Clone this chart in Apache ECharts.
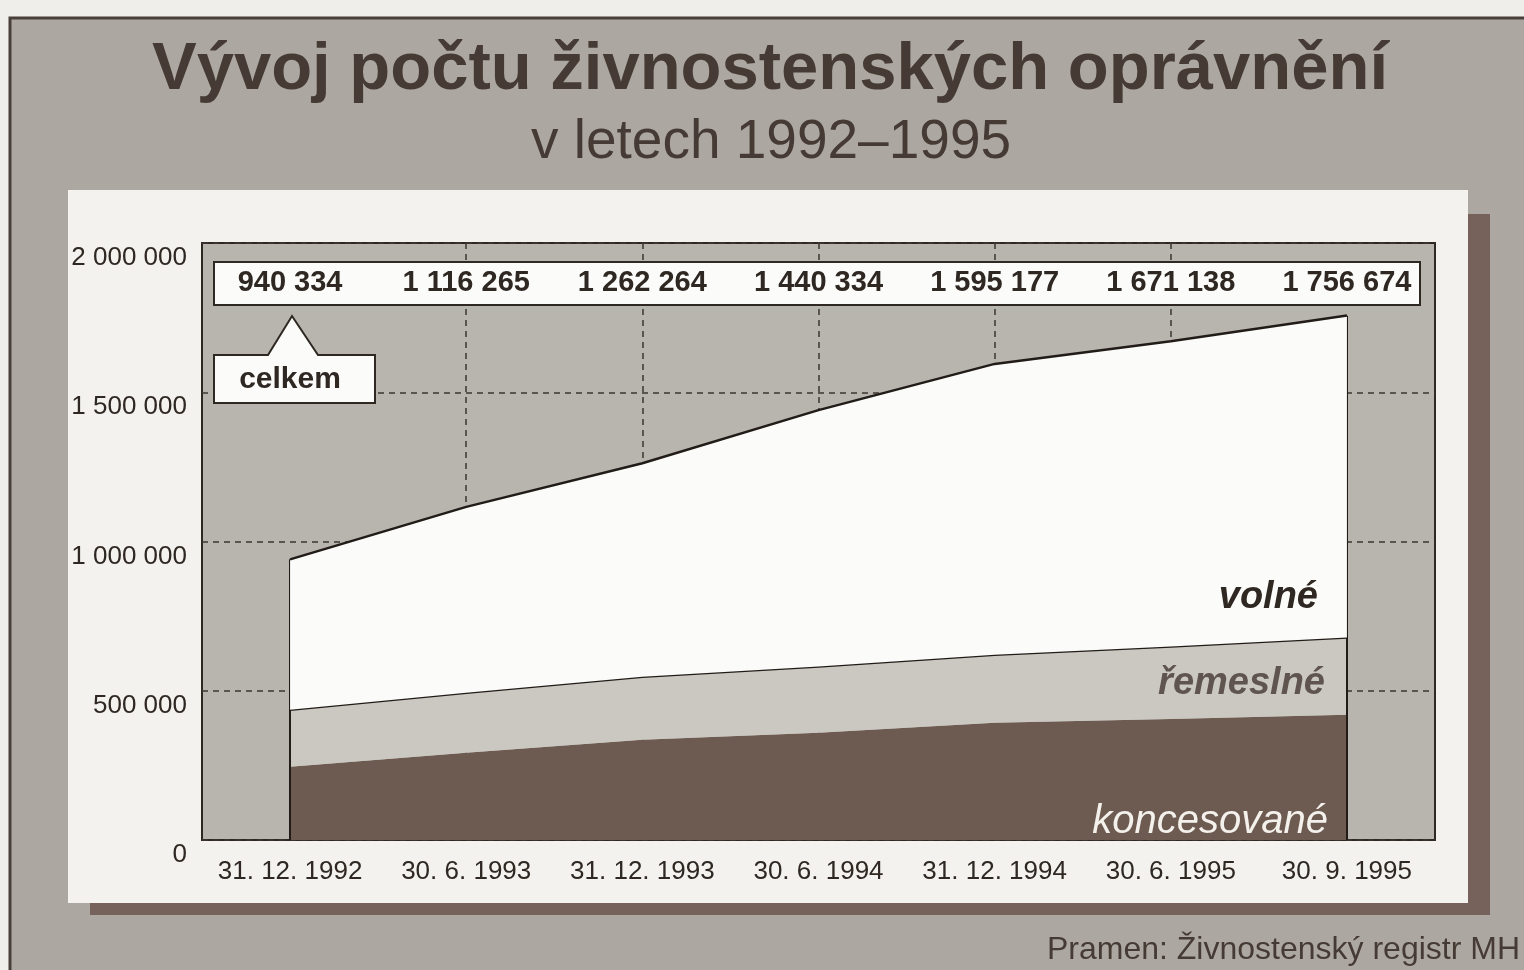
<!DOCTYPE html>
<html lang="cs">
<head>
<meta charset="utf-8">
<title>Vývoj počtu živnostenských oprávnění</title>
<script src="https://cdn.jsdelivr.net/npm/echarts@6/dist/echarts.min.js"></script>
<style>
  html, body { margin: 0; padding: 0; background: #efeeea; }
  #chart { width: 1524px; height: 970px; }
</style>
</head>
<body>
<div id="chart"></div>
<script>
const categories = ['31. 12. 1992', '30. 6. 1993', '31. 12. 1993', '30. 6. 1994', '31. 12. 1994', '30. 6. 1995', '30. 9. 1995'];
const celkem = [940334, 1116265, 1262264, 1440334, 1595177, 1671138, 1756674];
const koncesovane = [245000, 292000, 336000, 359000, 393000, 405000, 420000];
const remeslne = [191000, 201000, 211000, 222000, 228000, 243000, 258000];
const volne = [504000, 623000, 715000, 859000, 974000, 1023000, 1079000];
const yTicks = [0, 500000, 1000000, 1500000, 2000000];

const INK = '#2e2722';
const FONT = '"Liberation Sans", Arial, sans-serif';

function fmt(v) {
    return String(v).replace(/\B(?=(\d{3})+(?!\d))/g, ' ');
}

// dashed verticals only at inner category centres (value axis 0..14, centres on odd ticks)
const vColors = [];
for (let i = 0; i <= 14; i++) {
    vColors.push(i % 2 === 1 && i >= 3 && i <= 11 ? '#3d3630' : 'rgba(0,0,0,0)');
}

const chart = echarts.init(document.getElementById('chart'));

chart.setOption({
    animation: false,
    textStyle: { fontFamily: FONT },
    grid: {
        left: 202, right: 89, top: 243, bottom: 130,
        show: true,
        backgroundColor: '#b8b5ae',
        borderColor: INK,
        borderWidth: 2,
    },
    graphic: [
        // newsprint frame (runs off the right and bottom edge)
        { type: 'rect', z: -20, shape: { x: 10, y: 18, width: 1540, height: 980 },
          style: { fill: '#aca8a1', stroke: '#4a3f38', lineWidth: 3 } },
        // panel shadow
        { type: 'rect', z: -19, shape: { x: 90, y: 214, width: 1400, height: 701 },
          style: { fill: '#76625a' } },
        // white panel
        { type: 'rect', z: -18, shape: { x: 68, y: 190, width: 1400, height: 713 },
          style: { fill: '#f3f2ee' } },
        { type: 'text', z: 5, x: 770, y: 71,
          style: { text: 'Vývoj počtu živnostenských oprávnění', font: 'bold 67px ' + FONT,
                   fill: '#463b34', align: 'center', verticalAlign: 'middle' } },
        { type: 'text', z: 5, x: 771, y: 143,
          style: { text: 'v letech 1992–1995', font: '55px ' + FONT,
                   fill: '#463b34', align: 'center', verticalAlign: 'middle' } },
        // box for totals
        { type: 'rect', z: 10, shape: { x: 214, y: 262, width: 1206, height: 43 },
          style: { fill: '#fbfbf9', stroke: INK, lineWidth: 2 } },
        // "celkem" callout
        { type: 'polygon', z: 10,
          shape: { points: [[214, 355], [268, 355], [292, 316], [318, 355], [375, 355], [375, 403], [214, 403]] },
          style: { fill: '#fbfbf9', stroke: INK, lineWidth: 2 } },
        { type: 'text', z: 11, x: 290, y: 380,
          style: { text: 'celkem', font: 'bold 30px ' + FONT, fill: INK, align: 'center', verticalAlign: 'middle' } },
        // layer names
        { type: 'text', z: 20, x: 1318, y: 598,
          style: { text: 'volné', font: 'italic bold 38px ' + FONT, fill: INK, align: 'right', verticalAlign: 'middle' } },
        { type: 'text', z: 20, x: 1325, y: 684,
          style: { text: 'řemeslné', font: 'italic bold 38px ' + FONT, fill: '#5f554e', align: 'right', verticalAlign: 'middle' } },
        { type: 'text', z: 20, x: 1328, y: 822,
          style: { text: 'koncesované', font: 'italic 40px ' + FONT, fill: '#f4f1ec', align: 'right', verticalAlign: 'middle' } },
        { type: 'text', z: 5, x: 1520, y: 950,
          style: { text: 'Pramen: Živnostenský registr MH', font: '32px ' + FONT, fill: '#463b34', align: 'right', verticalAlign: 'middle' } },
    ],
    xAxis: [
        {
            type: 'category',
            data: categories,
            boundaryGap: true,
            axisLine: { show: false },
            axisTick: { show: false },
            splitLine: { show: false },
            axisLabel: { color: INK, fontSize: 26, margin: 32, verticalAlign: 'middle', interval: 0 },
        },
        {
            type: 'category',
            data: categories,
            position: 'top',
            z: 50,
            axisLine: { show: false },
            axisTick: { show: false },
            splitLine: { show: false },
            axisLabel: {
                inside: true, interval: 0, margin: 40, verticalAlign: 'middle',
                color: INK, fontSize: 29, fontWeight: 'bold',
                formatter: (v, i) => fmt(celkem[i]),
            },
        },
        {
            type: 'value',
            min: 0, max: 14, interval: 1,
            axisLine: { show: false },
            axisTick: { show: false },
            axisLabel: { show: false },
            splitLine: { show: true, lineStyle: { color: vColors, type: [6, 5], width: 1.5 } },
        },
    ],
    yAxis: {
        type: 'value',
        min: yTicks[0],
        max: yTicks[yTicks.length - 1],
        interval: yTicks[1] - yTicks[0],
        axisLine: { show: false },
        axisTick: { show: false },
        axisLabel: { color: INK, fontSize: 26, margin: 15, verticalAlign: 'top', padding: [2, 0, 0, 0], formatter: (v) => fmt(v) },
        splitLine: { show: true, lineStyle: { color: '#3d3630', type: [6, 5], width: 1.5 } },
    },
    series: [
        {
            name: 'koncesované',
            type: 'line',
            stack: 'all',
            data: koncesovane,
            showSymbol: false,
            lineStyle: { width: 0 },
            areaStyle: { color: '#6d5a50', opacity: 1 },
            z: 3,
        },
        {
            name: 'řemeslné',
            type: 'line',
            stack: 'all',
            data: remeslne,
            showSymbol: false,
            lineStyle: { width: 2.5, color: '#221c18' },
            areaStyle: { color: '#cbc8c2', opacity: 1 },
            z: 4,
        },
        {
            name: 'volné',
            type: 'line',
            stack: 'all',
            data: volne,
            showSymbol: false,
            lineStyle: { width: 2.5, color: '#221c18' },
            areaStyle: { color: '#fbfbf9', opacity: 1 },
            z: 5,
            markLine: {
                silent: true,
                symbol: 'none',
                label: { show: false },
                lineStyle: { color: '#221c18', width: 2, type: 'solid' },
                data: [
                    [{ coord: [categories[0], 0] }, { coord: [categories[0], celkem[0]] }],
                    [{ coord: [categories[6], 0] }, { coord: [categories[6], celkem[6]] }],
                ],
            },
        },
    ],
});
</script>
</body>
</html>
